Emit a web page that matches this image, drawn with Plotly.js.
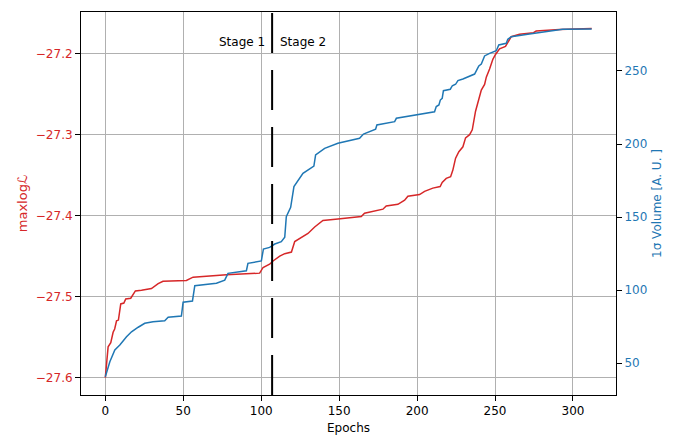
<!DOCTYPE html>
<html>
<head>
<meta charset="utf-8">
<script src="https://cdn.plot.ly/plotly-3.0.1.min.js"></script>
<style>html,body{margin:0;padding:0;background:#fff;}#chart{width:689px;height:439px;}</style>
</head>
<body>
<div id="chart"></div>
<script>
// max log L (left axis, red)
const epochsL = [0,1.8,3.5,5,6,7.2,8.4,9.9,11.9,13.1,16.3,19.3,23.2,29.6,33.9,37,52,56.3,77.7,99,101.2,105.4,107.6,111.9,115.1,119.4,121.5,125.8,130,134.3,139.6,149.2,164.2,166.3,172.3,178.1,180.2,187.7,192,194.1,201.6,204.8,210.1,214.8,216.1,218.7,221.5,222.9,224.7,226.8,229.4,231.1,233.7,235.4,237.5,239,241.2,243.3,244.4,246.5,248.6,250.3,252.9,256.7,258.8,260.4,265.7,270,274.7,276.4,291.3,312];
const maxLogL = [-27.600,-27.562,-27.557,-27.544,-27.540,-27.530,-27.529,-27.509,-27.508,-27.503,-27.502,-27.493,-27.492,-27.490,-27.484,-27.481,-27.480,-27.476,-27.473,-27.471,-27.464,-27.460,-27.456,-27.450,-27.447,-27.445,-27.432,-27.427,-27.422,-27.414,-27.406,-27.404,-27.401,-27.397,-27.394,-27.392,-27.388,-27.386,-27.381,-27.376,-27.374,-27.370,-27.366,-27.364,-27.359,-27.354,-27.352,-27.344,-27.329,-27.321,-27.315,-27.304,-27.300,-27.294,-27.271,-27.261,-27.245,-27.238,-27.229,-27.219,-27.207,-27.201,-27.194,-27.191,-27.185,-27.179,-27.176,-27.175,-27.174,-27.172,-27.170,-27.169];
// 1 sigma volume (right axis, blue)
const epochsV = [0,2.9,6.1,9.3,13.6,16.8,21.1,25.3,30.6,38.1,40.3,48.8,49.9,55.9,57.4,71.3,76.6,78.7,90.5,91.5,100.1,101.4,105.4,108.7,112.9,115.1,116.1,118.9,121.0,122.6,126.8,133.8,134.9,140.7,149.2,163.1,165.6,173.4,174.2,185.6,186.7,211.2,212.3,214,214.9,216.1,216.9,221.3,222.6,224.7,226.2,229.4,236.9,238.3,239.6,241.2,243.3,246.5,250.8,252.4,257.2,258.2,260.4,272.1,282.8,293.4,312];
const volume = [40.6,50.9,58.9,62.3,68,71.4,74.5,77.2,78.3,79,81.3,82.2,91.6,92.5,103,104.6,106.8,111.4,113.2,118.3,119.9,128,129.2,131.5,133.1,136.1,150.2,156.6,170.8,173.5,179.9,184.9,192.5,197,200.5,203.9,206.8,210.1,213,215.3,217.6,222.1,225.6,226.7,230.1,231.3,236.5,237.5,239.9,240.9,243.4,244.5,247.9,250.7,253.4,254.8,260.3,262.1,263.9,267.8,269,271.7,273.5,275.3,276.9,278.6,278.8];
const stageBoundary = 107;
const stageLabels = ["Stage 1", "Stage 2"];

const RED = '#d62728', BLUE = '#1f77b4';
const FONT = 'DejaVu Sans, sans-serif';

const traces = [
  {x: epochsL, y: maxLogL, type: 'scatter', mode: 'lines', line: {color: RED, width: 1.5}, yaxis: 'y', hoverinfo: 'skip'},
  {x: epochsV, y: volume, type: 'scatter', mode: 'lines', line: {color: BLUE, width: 1.5}, yaxis: 'y2', hoverinfo: 'skip'}
];

const layout = {
  width: 689, height: 439,
  margin: {l: 81, r: 73, t: 12, b: 44},
  paper_bgcolor: '#fff', plot_bgcolor: '#fff',
  showlegend: false,
  font: {family: FONT, size: 12, color: '#000'},
  xaxis: {
    range: [-15.6, 327.6], dtick: 50, tick0: 0,
    showgrid: true, gridcolor: '#b0b0b0', gridwidth: 1,
    zeroline: false, showline: true, linecolor: '#000', linewidth: 1, mirror: true,
    ticks: 'outside', ticklen: 5, tickcolor: '#000',
    tickfont: {family: FONT, size: 12, color: '#000'},
    title: {text: 'Epochs', font: {family: FONT, size: 12, color: '#000'}, standoff: 6}
  },
  yaxis: {
    range: [-27.6215, -27.1485], dtick: 0.1, tick0: -27.6, tickformat: '.1f',
    showgrid: true, gridcolor: '#b0b0b0', gridwidth: 1,
    zeroline: false, showline: true, linecolor: '#000', linewidth: 1, mirror: true,
    ticks: 'outside', ticklen: 5, tickcolor: '#000',
    tickfont: {family: FONT, size: 12, color: RED},
    title: {text: 'maxlogℒ', font: {family: FONT, size: 13, color: RED}, standoff: 5}
  },
  yaxis2: {
    range: [28.1, 290.4], dtick: 50, tick0: 50,
    overlaying: 'y', side: 'right',
    showgrid: false, zeroline: false, showline: true, linecolor: '#000', linewidth: 1,
    ticks: 'outside', ticklen: 5, tickcolor: '#000',
    tickfont: {family: FONT, size: 12, color: BLUE},
    title: {text: '1σ Volume [A. U. ]', font: {family: FONT, size: 12, color: BLUE}, standoff: 6}
  },
  shapes: [
    {type: 'line', xref: 'x', yref: 'paper', x0: stageBoundary, x1: stageBoundary, y0: 0, y1: 1,
     line: {color: '#000', width: 2, dash: '40px,17px'}, layer: 'above'}
  ],
  annotations: [
    {text: stageLabels[0], xref: 'x', yref: 'paper', x: stageBoundary, y: 0.9217, xanchor: 'right', yanchor: 'middle', xshift: -5, showarrow: false, font: {family: FONT, size: 12, color: '#000'}},
    {text: stageLabels[1], xref: 'x', yref: 'paper', x: stageBoundary, y: 0.9217, xanchor: 'left', yanchor: 'middle', xshift: 6, showarrow: false, font: {family: FONT, size: 12, color: '#000'}}
  ]
};

Plotly.newPlot('chart', traces, layout, {displayModeBar: false, staticPlot: true});
</script>
</body>
</html>
